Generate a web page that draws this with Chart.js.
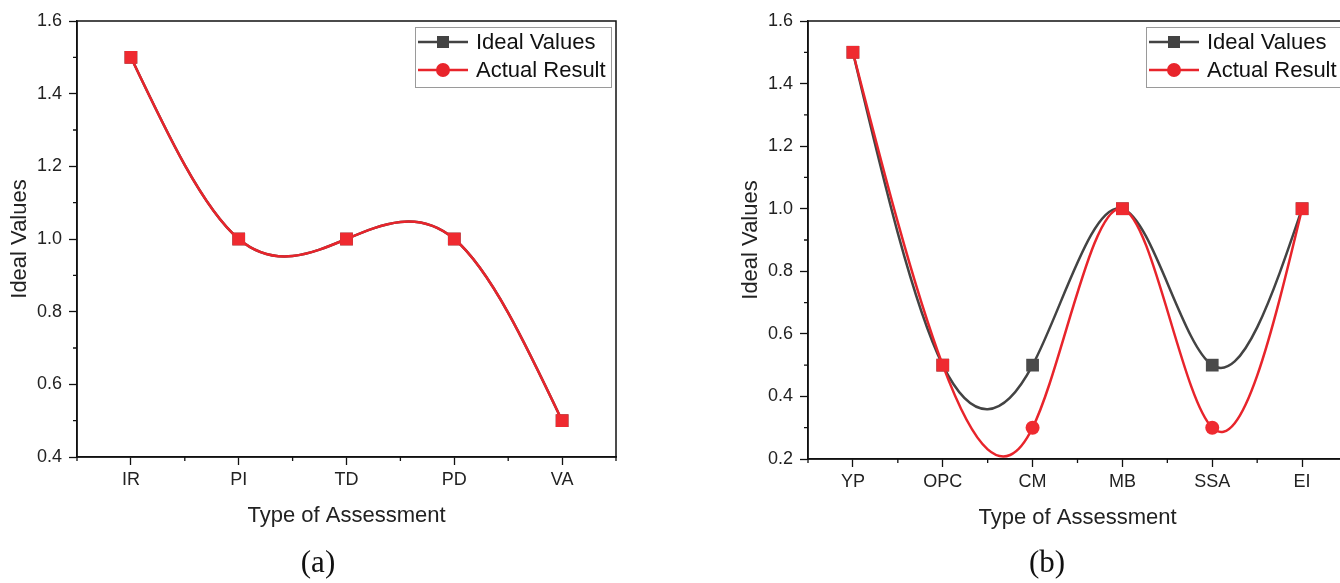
<!DOCTYPE html>
<html>
<head>
<meta charset="utf-8">
<script src="https://cdn.jsdelivr.net/npm/chart.js@4.4.1/dist/chart.umd.min.js"></script>
<style>
html, body { margin: 0; padding: 0; background: #fff; overflow: hidden; }
body { width: 1340px; height: 583px; position: relative; }
.box { position: absolute; top: 0; width: 640px; height: 583px; }
.cap { position: absolute; top: 544px; font-family: "Liberation Serif", "Times New Roman", serif; font-size: 31px; color: #111; transform: translateX(-50%); }
</style>
</head>
<body>
<div class="box" style="left:0"><canvas id="chartA" width="640" height="583"></canvas></div>
<div class="box" style="left:731px"><canvas id="chartB" width="640" height="583"></canvas></div>
<div class="cap" style="left:318px">(a)</div>
<div class="cap" style="left:1047px">(b)</div>
<script>
'use strict';

// panel (a)
var catsA = ['IR', 'PI', 'TD', 'PD', 'VA'];
var idealA = [1.5, 1.0, 1.0, 1.0, 0.5];
var actualA = [1.5, 1.0, 1.0, 1.0, 0.5];
var yRangeA = [0.4, 1.6];

// panel (b)
var catsB = ['YP', 'OPC', 'CM', 'MB', 'SSA', 'EI'];
var idealB = [1.5, 0.5, 0.5, 1.0, 0.5, 1.0];
var actualB = [1.5, 0.5, 0.3, 1.0, 0.3, 1.0];
var yRangeB = [0.2, 1.6];

var yStep = 0.2;
var xTitle = 'Type of Assessment';
var yTitle = 'Ideal Values';

var FONT = '"Liberation Sans", Arial, sans-serif';
var GRAY = '#434343';
var RED = '#e8242b';

// origin draws a natural cubic spline through the points, so set the
// bezier control points of each line from that spline (pixel space)
var naturalSpline = {
	id: 'naturalSpline',
	beforeDatasetsDraw: function(chart) {
		chart.data.datasets.forEach(function(ds, di) {
			var meta = chart.getDatasetMeta(di);
			var pts = meta.data;
			var n = pts.length - 1;
			if (n < 2) return;
			var h = [], M = [], i;
			for (i = 0; i < n; i++) h.push(pts[i + 1].x - pts[i].x);

			// tridiagonal system for the second derivatives, M0 = Mn = 0
			var a = [], b = [], c = [], r = [];
			for (i = 1; i < n; i++) {
				a.push(h[i - 1]);
				b.push(2 * (h[i - 1] + h[i]));
				c.push(h[i]);
				r.push(6 * ((pts[i + 1].y - pts[i].y) / h[i] - (pts[i].y - pts[i - 1].y) / h[i - 1]));
			}
			var m = b.length;
			for (i = 1; i < m; i++) {
				var w = a[i] / b[i - 1];
				b[i] -= w * c[i - 1];
				r[i] -= w * r[i - 1];
			}
			var sol = new Array(m);
			sol[m - 1] = r[m - 1] / b[m - 1];
			for (i = m - 2; i >= 0; i--) sol[i] = (r[i] - c[i] * sol[i + 1]) / b[i];
			M = [0].concat(sol, [0]);

			for (i = 0; i < n; i++) {
				var p0 = pts[i], p1 = pts[i + 1], hi = h[i];
				var slope = (p1.y - p0.y) / hi;
				var d0 = slope - hi * (2 * M[i] + M[i + 1]) / 6;
				var d1 = slope + hi * (M[i] + 2 * M[i + 1]) / 6;
				p0.cp2x = p0.x + hi / 3;
				p0.cp2y = p0.y + d0 * hi / 3;
				p1.cp1x = p1.x - hi / 3;
				p1.cp1y = p1.y - d1 * hi / 3;
			}
			pts[0].cp1x = pts[0].x; pts[0].cp1y = pts[0].y;
			pts[n].cp2x = pts[n].x; pts[n].cp2y = pts[n].y;
			meta.dataset._pointsUpdated = true;
		});
	}
};

// box frame, minor ticks and the origin style legend
var originDecor = {
	id: 'originDecor',
	afterDatasetsDraw: function(chart) {
		var ctx = chart.ctx, a = chart.chartArea;
		var xs = chart.scales.x, ys = chart.scales.y;
		ctx.save();
		ctx.strokeStyle = '#111';
		ctx.lineWidth = 1.5;
		ctx.strokeRect(a.left, a.top, a.right - a.left, a.bottom - a.top);

		ctx.lineWidth = 1.3;
		ctx.beginPath();
		for (var v = ys.min + yStep / 2; v < ys.max; v += yStep) {
			var py = ys.getPixelForValue(v);
			ctx.moveTo(a.left - 4, py);
			ctx.lineTo(a.left, py);
		}
		for (var i = 0; i <= chart.data.labels.length; i++) {
			var px = xs.getPixelForValue(i - 0.5);
			ctx.moveTo(px, a.bottom);
			ctx.lineTo(px, a.bottom + 4);
		}
		ctx.stroke();

		// legend
		var lx = a.right - 201, ly = a.top + 6;
		ctx.fillStyle = '#fff';
		ctx.fillRect(lx, ly, 196, 60);
		ctx.strokeStyle = '#9a9a9a';
		ctx.lineWidth = 1;
		ctx.strokeRect(lx + 0.5, ly + 0.5, 196, 60);
		chart.data.datasets.forEach(function(ds, k) {
			var ry = ly + 15 + k * 28;
			ctx.strokeStyle = ds.borderColor;
			ctx.lineWidth = 2.5;
			ctx.beginPath();
			ctx.moveTo(lx + 3, ry);
			ctx.lineTo(lx + 53, ry);
			ctx.stroke();
			ctx.fillStyle = ds.borderColor;
			if (ds.legendMarker === 'rect') {
				ctx.fillRect(lx + 22, ry - 6, 12, 12);
			} else {
				ctx.beginPath();
				ctx.arc(lx + 28, ry, 7, 0, Math.PI * 2);
				ctx.fill();
			}
			ctx.fillStyle = '#111';
			ctx.font = '22px ' + FONT;
			ctx.textBaseline = 'middle';
			ctx.textAlign = 'left';
			ctx.fillText(ds.label, lx + 61, ry + 1);
		});
		ctx.restore();
	}
};

function makeChart(id, cats, ideal, actual, yRange, padBottom) {
	// where both series agree the red marker sits on the square
	var actStyle = actual.map(function(v, i) { return v === ideal[i] ? 'rect' : 'circle'; });
	var actRadius = actual.map(function(v, i) { return v === ideal[i] ? 9 : 7; });

	return new Chart(document.getElementById(id), {
		type: 'line',
		data: {
			labels: cats,
			datasets: [
				{
					label: 'Ideal Values',
					data: ideal,
					order: 1,
					borderColor: GRAY,
					borderWidth: 2.5,
					pointStyle: 'rect',
					pointRadius: 9,
					pointBackgroundColor: '#4a4a4a',
					pointBorderWidth: 0,
					tension: 0.4,
					legendMarker: 'rect'
				},
				{
					label: 'Actual Result',
					data: actual,
					order: 0,
					borderColor: RED,
					borderWidth: 2.5,
					pointStyle: actStyle,
					pointRadius: actRadius,
					pointBackgroundColor: '#ef2a30',
					pointBorderWidth: 0,
					tension: 0.4,
					legendMarker: 'circle'
				}
			]
		},
		options: {
			responsive: false,
			animation: false,
			layout: { padding: { left: 0, top: 21, right: 24, bottom: padBottom } },
			plugins: { legend: { display: false }, tooltip: { enabled: false } },
			scales: {
				x: {
					offset: true,
					grid: { drawOnChartArea: false, drawTicks: true, tickLength: 8, tickColor: '#111', tickWidth: 1.3, offset: false },
					border: { color: '#111', width: 1.5 },
					ticks: { font: { family: FONT, size: 18 }, color: '#222', padding: 4, maxRotation: 0, autoSkip: false },
					title: { display: true, text: xTitle, font: { family: FONT, size: 22 }, color: '#222', padding: { top: 0, bottom: 0 } },
					afterFit: function(s) { s.height = 72; }
				},
				y: {
					min: yRange[0],
					max: yRange[1],
					grid: { drawOnChartArea: false, drawTicks: true, tickLength: 8, tickColor: '#111', tickWidth: 1.3 },
					border: { color: '#111', width: 1.5 },
					ticks: {
						stepSize: yStep,
						font: { family: FONT, size: 18 },
						color: '#222',
						padding: 7,
						callback: function(v) { return Number(v).toFixed(1); }
					},
					title: { display: true, text: yTitle, font: { family: FONT, size: 22 }, color: '#222', padding: { top: 7, bottom: 0 } },
					afterFit: function(s) { s.width = 77; }
				}
			}
		},
		plugins: [naturalSpline, originDecor]
	});
}

makeChart('chartA', catsA, idealA, actualA, yRangeA, 54);
makeChart('chartB', catsB, idealB, actualB, yRangeB, 52);
</script>
</body>
</html>
